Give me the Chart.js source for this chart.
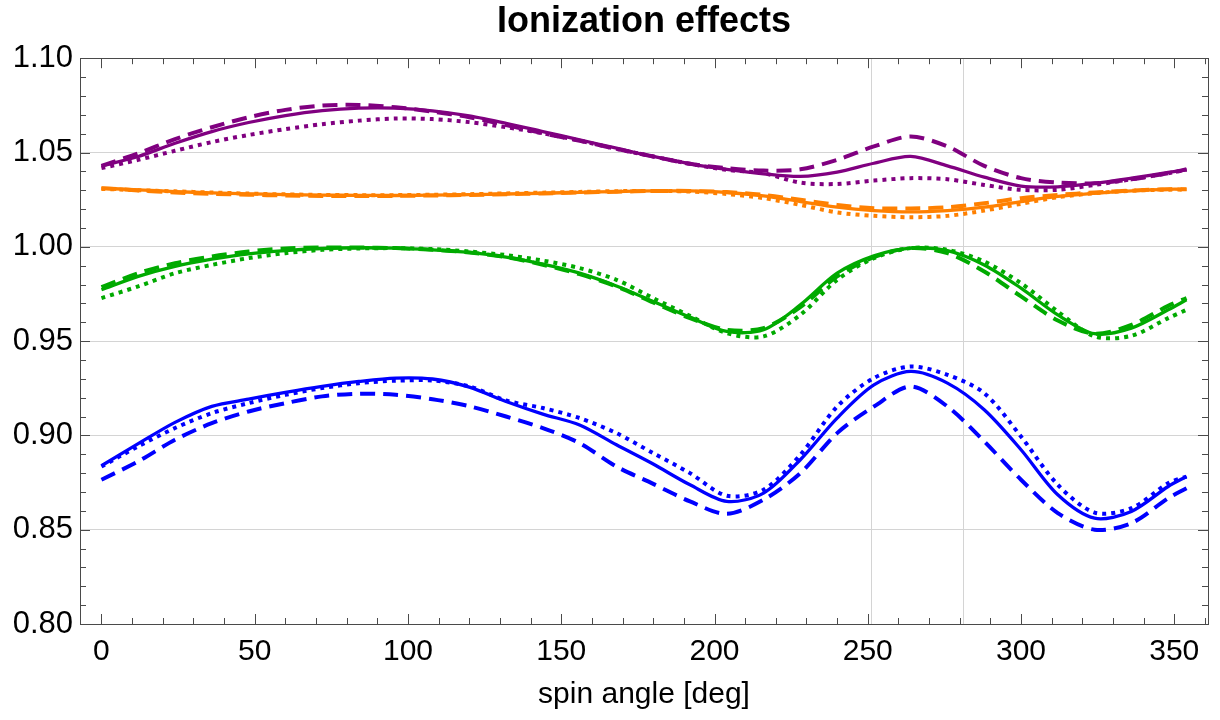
<!DOCTYPE html>
<html>
<head>
<meta charset="utf-8">
<script src="https://cdn.jsdelivr.net/npm/chart.js@4.4.1/dist/chart.umd.min.js"></script>
<style>
  html, body { margin: 0; padding: 0; background: #fff; }
  #wrap { width: 1220px; height: 720px; position: relative; }
</style>
</head>
<body>
<div id="wrap"><canvas id="c"></canvas></div>
<script>
/* ========= Datos ========= */
const angles = [0, 12, 24, 36, 48, 60, 72, 84, 96, 108, 120, 132, 144, 156, 168,
  180, 192, 204, 216, 228, 240, 252, 264, 276, 288, 300, 312, 324, 336, 348, 354];

const purpleSolid  = [1.0429, 1.0479, 1.0549, 1.0611, 1.0659, 1.0696, 1.0722, 1.0735, 1.0735, 1.0721, 1.0694, 1.0655, 1.0611, 1.0567, 1.0523,
  1.0479, 1.0440, 1.0411, 1.0387, 1.0373, 1.0396, 1.0443, 1.0479, 1.0429, 1.0369, 1.0322, 1.0318, 1.0337, 1.0364, 1.0394, 1.0408];
const purpleDashed = [1.0429, 1.0496, 1.0571, 1.0634, 1.0687, 1.0726, 1.0749, 1.0752, 1.0740, 1.0717, 1.0687, 1.0646, 1.0602, 1.0562, 1.0519,
  1.0479, 1.0440, 1.0417, 1.0404, 1.0411, 1.0461, 1.0532, 1.0585, 1.0532, 1.0429, 1.0364, 1.0341, 1.0337, 1.0358, 1.0390, 1.0411];
const purpleDotted = [1.0417, 1.0461, 1.0509, 1.0555, 1.0593, 1.0624, 1.0650, 1.0669, 1.0680, 1.0677, 1.0661, 1.0634, 1.0602, 1.0563, 1.0519,
  1.0479, 1.0440, 1.0408, 1.0390, 1.0340, 1.0333, 1.0351, 1.0364, 1.0358, 1.0328, 1.0302, 1.0302, 1.0328, 1.0358, 1.0390, 1.0408];

const orangeSolid  = [1.0311, 1.0302, 1.0293, 1.0286, 1.0281, 1.0277, 1.0274, 1.0273, 1.0272, 1.0274, 1.0277, 1.0280, 1.0284, 1.0289, 1.0293,
  1.0296, 1.0296, 1.0288, 1.0270, 1.0240, 1.0210, 1.0192, 1.0185, 1.0192, 1.0210, 1.0240, 1.0267, 1.0284, 1.0297, 1.0305, 1.0305];
const orangeDashed = [1.0311, 1.0299, 1.0288, 1.0281, 1.0276, 1.0272, 1.0270, 1.0269, 1.0270, 1.0272, 1.0275, 1.0279, 1.0283, 1.0288, 1.0292,
  1.0296, 1.0296, 1.0290, 1.0275, 1.0249, 1.0222, 1.0205, 1.0203, 1.0210, 1.0231, 1.0258, 1.0275, 1.0288, 1.0298, 1.0305, 1.0305];
const orangeDotted = [1.0307, 1.0300, 1.0294, 1.0288, 1.0282, 1.0278, 1.0275, 1.0274, 1.0274, 1.0276, 1.0279, 1.0283, 1.0287, 1.0291, 1.0295,
  1.0296, 1.0293, 1.0280, 1.0258, 1.0222, 1.0182, 1.0164, 1.0157, 1.0164, 1.0192, 1.0228, 1.0263, 1.0284, 1.0297, 1.0303, 1.0303];

const greenSolid  = [0.9772, 0.9843, 0.9896, 0.9934, 0.9963, 0.9980, 0.9991, 0.9995, 0.9993, 0.9984, 0.9970, 0.9945, 0.9908, 0.9860, 0.9792,
  0.9710, 0.9627, 0.9551, 0.9560, 0.9692, 0.9860, 0.9952, 0.9993, 0.9980, 0.9904, 0.9781, 0.9639, 0.9539, 0.9569, 0.9666, 0.9719];
const greenDashed = [0.9786, 0.9860, 0.9913, 0.9949, 0.9975, 0.9991, 0.9996, 0.9996, 0.9993, 0.9984, 0.9970, 0.9945, 0.9905, 0.9855, 0.9790,
  0.9705, 0.9622, 0.9560, 0.9569, 0.9680, 0.9843, 0.9945, 0.9993, 0.9966, 0.9869, 0.9737, 0.9609, 0.9539, 0.9586, 0.9687, 0.9728];
const greenDotted = [0.9728, 0.9790, 0.9860, 0.9904, 0.9940, 0.9966, 0.9984, 0.9991, 0.9993, 0.9988, 0.9975, 0.9956, 0.9927, 0.9887, 0.9825,
  0.9728, 0.9634, 0.9542, 0.9525, 0.9639, 0.9825, 0.9940, 0.9993, 0.9984, 0.9922, 0.9807, 0.9657, 0.9525, 0.9528, 0.9622, 0.9666];

const blueSolid  = [0.8839, 0.8956, 0.9069, 0.9154, 0.9192, 0.9228, 0.9260, 0.9286, 0.9304, 0.9299, 0.9256, 0.9180, 0.9113, 0.9055, 0.8950,
  0.8848, 0.8738, 0.8650, 0.8694, 0.8871, 0.9092, 0.9268, 0.9339, 0.9277, 0.9136, 0.8924, 0.8685, 0.8561, 0.8597, 0.8729, 0.8782];
const blueDashed = [0.8765, 0.8862, 0.8977, 0.9065, 0.9127, 0.9171, 0.9207, 0.9221, 0.9215, 0.9192, 0.9155, 0.9100, 0.9039, 0.8959, 0.8835,
  0.8743, 0.8650, 0.8584, 0.8659, 0.8800, 0.9012, 0.9153, 0.9259, 0.9153, 0.8968, 0.8765, 0.8588, 0.8500, 0.8535, 0.8667, 0.8720];
const blueDotted = [0.8835, 0.8942, 0.9039, 0.9118, 0.9171, 0.9215, 0.9251, 0.9277, 0.9290, 0.9291, 0.9260, 0.9185, 0.9145, 0.9092, 0.9012,
  0.8906, 0.8800, 0.8680, 0.8712, 0.8897, 0.9153, 0.9304, 0.9365, 0.9321, 0.9224, 0.8994, 0.8738, 0.8591, 0.8614, 0.8747, 0.8782];

const xTicks = [0, 50, 100, 150, 200, 250, 300, 350];
const yTicks = [0.80, 0.85, 0.90, 0.95, 1.00, 1.05, 1.10];
const vLines = [251, 281];

/* ========= Estilo ========= */
const COLORS = { purple: '#800080', orange: '#ff8000', green: '#00aa00', blue: '#0000ff' };
const DASH = { solid: [], dashed: [15, 8], dotted: [4, 5] };
const GRID = '#d4d4d4';
const FRAME = '#4a4a4a';
const FONT = '"Liberation Sans", Arial, sans-serif';

function series(values, color, style) {
  return {
    data: angles.map((a, i) => ({ x: a, y: values[i] })),
    borderColor: color,
    borderWidth: style === 'solid' ? 3.3 : 4,
    borderDash: DASH[style],
    borderCapStyle: 'butt',
    pointRadius: 0,
    tension: 0.3,
    fill: false,
  };
}

/* ========= Marco + ticks hacia adentro (estilo Mathematica) ========= */
const framePlugin = {
  id: 'frame',
  beforeDatasetsDraw(chart) {
    const { ctx, chartArea: a, scales: { x } } = chart;
    ctx.save();
    ctx.strokeStyle = GRID;
    ctx.lineWidth = 1;
    vLines.forEach(v => {
      const px = Math.round(x.getPixelForValue(v)) + 0.5;
      ctx.beginPath(); ctx.moveTo(px, a.top); ctx.lineTo(px, a.bottom); ctx.stroke();
    });
    ctx.restore();
  },
  afterDraw(chart) {
    const { ctx, chartArea: a, scales: { x, y } } = chart;
    ctx.save();
    ctx.strokeStyle = FRAME;
    ctx.lineWidth = 1;
    ctx.strokeRect(Math.round(a.left) + 0.5, Math.round(a.top) + 0.5,
      Math.round(a.right - a.left), Math.round(a.bottom - a.top));

    const tick = (x0, y0, x1, y1) => { ctx.beginPath(); ctx.moveTo(x0, y0); ctx.lineTo(x1, y1); ctx.stroke(); };
    for (let v = 0; v <= 360; v += 10) {
      const px = Math.round(x.getPixelForValue(v)) + 0.5;
      if (px < a.left || px > a.right) continue;
      const len = v % 50 === 0 ? 10 : 6;
      tick(px, a.bottom, px, a.bottom - len);
      tick(px, a.top, px, a.top + len);
    }
    for (let k = 80; k <= 110; k++) {
      const py = Math.round(y.getPixelForValue(k / 100)) + 0.5;
      const len = k % 5 === 0 ? 10 : 6;
      tick(a.left, py, a.left + len, py);
      tick(a.right, py, a.right - len, py);
    }
    ctx.restore();
  }
};

new Chart(document.getElementById('c'), {
  type: 'line',
  data: {
    datasets: [
      series(purpleSolid, COLORS.purple, 'solid'),
      series(purpleDashed, COLORS.purple, 'dashed'),
      series(purpleDotted, COLORS.purple, 'dotted'),
      series(orangeSolid, COLORS.orange, 'solid'),
      series(orangeDashed, COLORS.orange, 'dashed'),
      series(orangeDotted, COLORS.orange, 'dotted'),
      series(greenSolid, COLORS.green, 'solid'),
      series(greenDashed, COLORS.green, 'dashed'),
      series(greenDotted, COLORS.green, 'dotted'),
      series(blueSolid, COLORS.blue, 'solid'),
      series(blueDashed, COLORS.blue, 'dashed'),
      series(blueDotted, COLORS.blue, 'dotted'),
    ]
  },
  options: {
    responsive: true,
    maintainAspectRatio: false,
    animation: false,
    layout: { padding: { left: 0, right: 12, top: 0, bottom: 0 } },
    scales: {
      x: {
        type: 'linear',
        min: -7,
        max: 361,
        afterBuildTicks: (s) => { s.ticks = xTicks.map(v => ({ value: v })); },
        afterFit: (s) => { s.height = 96; },
        ticks: { color: '#000', font: { family: FONT, size: 30 }, padding: 10, maxRotation: 0 },
        grid: { display: false, drawTicks: false },
        border: { display: false },
        title: {
          display: true,
          text: 'spin angle [deg]',
          color: '#000',
          font: { family: FONT, size: 30 },
          padding: { top: 0, bottom: 7 }
        }
      },
      y: {
        min: 0.8,
        max: 1.1,
        afterBuildTicks: (s) => { s.ticks = yTicks.map(v => ({ value: v })); },
        afterFit: (s) => { s.width = 80; },
        ticks: { color: '#000', font: { family: FONT, size: 31 }, padding: 7, callback: (v) => v.toFixed(2) },
        grid: { color: GRID, drawTicks: false },
        border: { display: false }
      }
    },
    plugins: {
      legend: { display: false },
      tooltip: { enabled: false },
      title: {
        display: true,
        fullSize: false,
        text: 'Ionization effects',
        color: '#000',
        font: { family: FONT, size: 36, weight: 'bold' },
        padding: { top: 0, bottom: 15 }
      }
    }
  },
  plugins: [framePlugin]
});
</script>
</body>
</html>
